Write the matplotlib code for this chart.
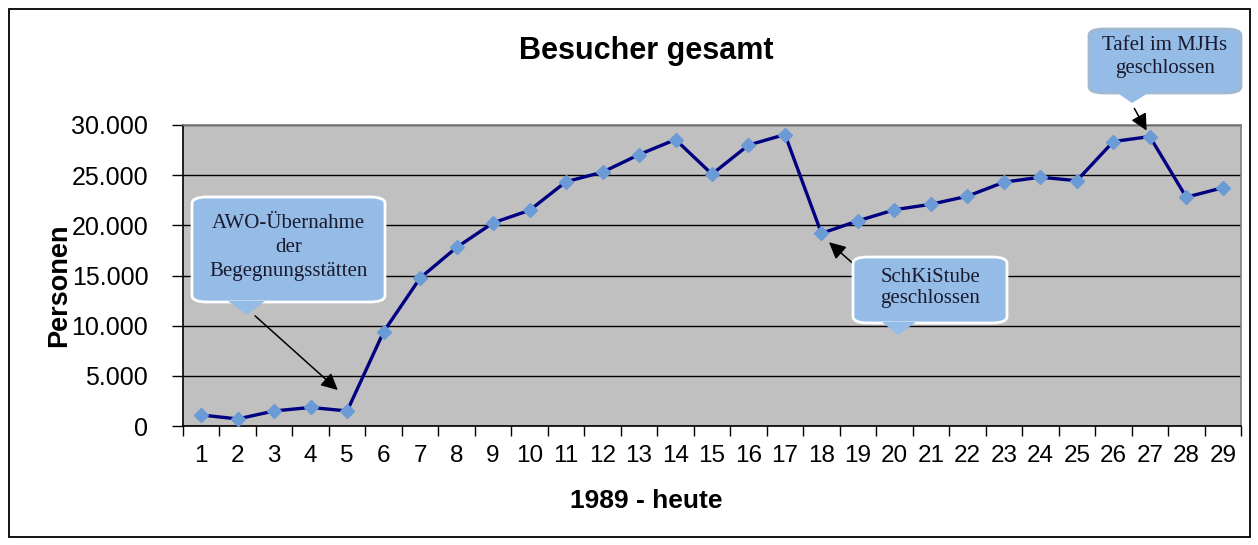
import matplotlib.pyplot as plt
from matplotlib.patches import FancyBboxPatch, Polygon, Rectangle

# Besucher pro Jahr, 1989 - heute
jahre = list(range(1, 30))
besucher = [1100, 700, 1500, 1850, 1500, 9400, 14750, 17800, 20250, 21500,
            24350, 25300, 27050, 28550, 25100, 28000, 29050, 19200, 20450, 21550,
            22100, 22900, 24300, 24800, 24450, 28350, 28850, 22800, 23750]
y_ticks = [0, 5000, 10000, 15000, 20000, 25000, 30000]

W, H = 1258, 545
plt.rcParams['font.family'] = ['Liberation Sans', 'DejaVu Sans']

fig = plt.figure(figsize=(W / 100, H / 100), dpi=100)
fig.patch.set_facecolor('white')


def fx(px):
    return px / W


def fy(py):
    return 1 - py / H


# Diagrammfläche
ax = fig.add_axes([fx(183), fy(426), fx(1241) - fx(183), fy(125) - fy(426)])
ax.set_facecolor('#c0c0c0')
ax.plot(jahre, besucher, color='#000080', lw=2.4, marker='D', markersize=7.5,
        markerfacecolor='#6b9bd6', markeredgecolor='#6b9bd6', zorder=3)

ax.set_xlim(0.5, 29.5)
ax.set_ylim(0, 30000)
ax.set_yticks(y_ticks)
ax.set_yticklabels([f'{v:,}'.replace(',', '.') for v in y_ticks])
ax.yaxis.grid(True, color='black', lw=1)
ax.set_axisbelow(True)

ax.set_xticks(jahre)
ax.set_xticklabels([str(j) for j in jahre])
ax.set_xticks([j - 0.5 for j in jahre] + [29.5], minor=True)
ax.tick_params(axis='x', which='major', length=0, labelsize=17.5, pad=14)
ax.tick_params(axis='x', which='minor', length=7, width=1, direction='out')
ax.tick_params(axis='y', length=8, width=1, direction='out', labelsize=18, pad=17)

for s in ['left', 'bottom']:
    ax.spines[s].set_color('black')
    ax.spines[s].set_linewidth(1.2)
for s in ['top', 'right']:
    ax.spines[s].set_color('#808080')
    ax.spines[s].set_linewidth(1.2)

# Titel und Achsentitel
fig.text(fx(646), fy(51), 'Besucher gesamt', ha='center', va='center',
         fontsize=22, fontweight='bold')
fig.text(fx(646), fy(501), '1989 - heute', ha='center', va='center',
         fontsize=19, fontweight='bold')
fig.text(fx(59), fy(285), 'Personen', ha='center', va='center',
         rotation=90, fontsize=19.5, fontweight='bold')

# Rahmen um das ganze Bild
fig.patches.append(Rectangle((fx(9), fy(537)), fx(1250) - fx(9), fy(9) - fy(537),
                             transform=fig.transFigure, fill=False,
                             edgecolor='black', lw=1.3))


def legende(x0, y0, x1, y1, tail, text, lines_y, edge='white'):
    box = FancyBboxPatch((fx(x0), fy(y1)), fx(x1) - fx(x0), fy(y0) - fy(y1),
                         boxstyle='round,pad=0,rounding_size=0.012',
                         transform=fig.transFigure, facecolor='#95bce6',
                         edgecolor=edge, lw=2, zorder=5)
    fig.patches.append(box)
    tri = Polygon([(fx(tail[0]), fy(y1 - 1)), (fx(tail[1]), fy(y1 - 1)),
                   (fx(tail[2]), fy(tail[3]))], closed=True,
                  transform=fig.transFigure, facecolor='#95bce6',
                  edgecolor='none', zorder=6)
    fig.patches.append(tri)
    for t, ly in zip(text, lines_y):
        fig.text(fx((x0 + x1) / 2), fy(ly), t, ha='center', va='center',
                 fontsize=15, color='#1a1a2e', zorder=7,
                 family=['Liberation Serif', 'DejaVu Serif'])


legende(192, 197, 385, 302, (228, 265, 247, 315),
        ['AWO-Übernahme', 'der', 'Begegnungsstätten'], [223, 247, 271])
legende(853, 257, 1007, 323, (882, 916, 898, 335),
        ['SchKiStube', 'geschlossen'], [278, 299])
legende(1089, 29, 1241, 93, (1116, 1150, 1132, 103),
        ['Tafel im MJHs', 'geschlossen'], [46, 69], edge='#a0b8d0')

# Pfeile
pfeil = dict(arrowstyle='-|>', color='black', lw=1.1, mutation_scale=25)
ax.annotate('', xy=(4.8, 3400), xytext=(253, H - 314), textcoords='figure pixels',
            arrowprops=pfeil)
ax.annotate('', xy=(18.15, 18500), xytext=(858, H - 268), textcoords='figure pixels',
            arrowprops=pfeil)
ax.annotate('', xy=(26.95, 29200), xytext=(1133, H - 106), textcoords='figure pixels',
            arrowprops=pfeil)

fig.savefig('out.png', dpi=100, facecolor='white')
